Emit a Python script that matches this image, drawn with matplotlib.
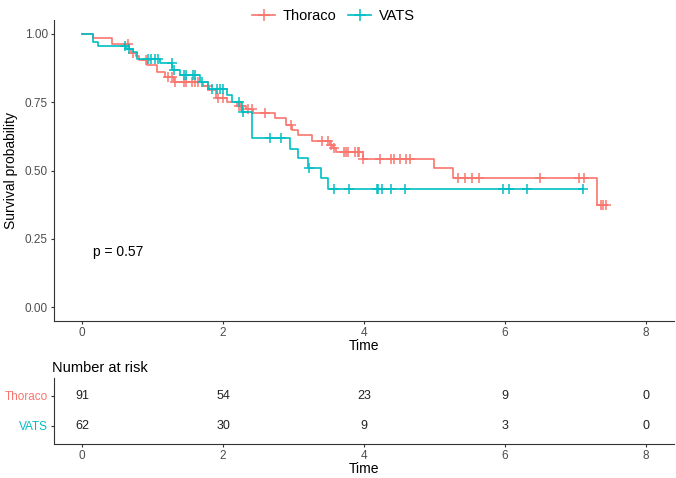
import numpy as np
import matplotlib
matplotlib.use('Agg')
import matplotlib.pyplot as plt
from matplotlib.lines import Line2D

plt.rcParams['font.family'] = ['Liberation Sans', 'DejaVu Sans']

groups = ['Thoraco', 'VATS']
colors = ['#F8766D', '#00BFC4']

# Thoraco: step times and survival after each step
thor_t = [0.16, 0.42, 0.66, 0.70, 0.76, 0.80, 0.92, 1.06, 1.18, 1.30, 1.72, 1.80,
          1.90, 2.05, 2.20, 2.32, 2.42, 2.74, 2.90, 2.98, 3.07, 3.26, 3.52, 3.56,
          3.60, 3.98, 5.00, 5.26, 7.31]
thor_s = [0.984, 0.963, 0.945, 0.930, 0.918, 0.905, 0.885, 0.862, 0.844, 0.825, 0.810, 0.795,
          0.766, 0.750, 0.738, 0.725, 0.709, 0.691, 0.667, 0.648, 0.630, 0.608, 0.593, 0.584,
          0.567, 0.542, 0.508, 0.471, 0.375]
thor_cens = [0.65, 0.72, 0.90, 1.22, 1.27, 1.32, 1.44, 1.48, 1.56, 1.60, 1.65, 1.78, 1.93,
             2.00, 2.22, 2.25, 2.36, 2.41, 2.60, 2.97, 3.40, 3.49, 3.53, 3.57, 3.71, 3.74,
             3.78, 3.87, 3.91, 3.93, 3.99, 4.23, 4.39, 4.43, 4.51, 4.60, 4.65, 5.34, 5.43,
             5.54, 5.64, 6.50, 7.05, 7.13, 7.36, 7.40, 7.44]
thor_end = 7.45

# VATS
vats_t = [0.16, 0.22, 0.62, 0.72, 0.78, 1.11, 1.28, 1.39, 1.67, 1.79, 2.05, 2.12,
          2.27, 2.41, 2.95, 3.06, 3.21, 3.39, 3.49]
vats_s = [0.972, 0.956, 0.944, 0.935, 0.907, 0.892, 0.868, 0.850, 0.825, 0.800, 0.776, 0.752,
          0.715, 0.620, 0.580, 0.545, 0.508, 0.471, 0.432]
vats_cens = [0.61, 0.66, 0.94, 0.98, 1.03, 1.08, 1.27, 1.30, 1.44, 1.48, 1.58, 1.60, 1.70,
             1.84, 1.91, 1.96, 2.00, 2.22, 2.28, 2.66, 2.82, 3.22, 3.57, 3.79, 4.18, 4.20,
             4.25, 4.38, 4.58, 5.98, 6.06, 6.32, 7.11]
vats_end = 7.11

risk_times = [0, 2, 4, 6, 8]
thor_risk = [91, 54, 23, 9, 0]
vats_risk = [62, 30, 9, 3, 0]
pval = 'p = 0.57'

fig = plt.figure(figsize=(6.76, 4.78), dpi=100)
ax = fig.add_axes([0.0799, 0.329, 0.917, 0.6285])
axr = fig.add_axes([0.0799, 0.0715, 0.917, 0.1385])

curves = [(thor_t, thor_s, thor_cens, thor_end), (vats_t, vats_s, vats_cens, vats_end)]
for (t, s, cens, end), col in zip(curves, colors):
    tt = np.concatenate([[0], t, [end]])
    ss = np.concatenate([[1.0], s, [s[-1]]])
    ax.step(tt, ss, where='post', color=col, lw=1.2)
    idx = np.searchsorted(tt, cens, side='right') - 1
    ax.plot(cens, ss[idx], ls='none', marker='+', ms=7, mew=1.1, color=col)

ax.text(0.15, 0.2, pval, fontsize=10, ha='left', va='center')

for a in (ax, axr):
    for sp in ['top', 'right']:
        a.spines[sp].set_visible(False)
    for sp in ['left', 'bottom']:
        a.spines[sp].set_color('#333333')
        a.spines[sp].set_linewidth(0.8)
    a.tick_params(colors='#333333', labelcolor='#4D4D4D', labelsize=8.5, length=2.5,
                  width=0.8, pad=2)
    a.set_xlim(-0.4, 8.4)
    a.set_xticks(risk_times)
    a.set_xlabel('Time', fontsize=10, labelpad=0)

ax.set_ylim(-0.05, 1.05)
ax.set_yticks([0, 0.25, 0.5, 0.75, 1.0])
ax.set_yticklabels(['0.00', '0.25', '0.50', '0.75', '1.00'])
ax.set_ylabel('Survival probability', fontsize=10, labelpad=5)

handles = [Line2D([], [], color=c, marker='+', ms=8, mew=1.1, lw=1.2) for c in colors]
fig.legend(handles, groups, loc='center', bbox_to_anchor=(0.493, 0.966), ncol=2,
           frameon=False, fontsize=10.5, handlelength=1.6, columnspacing=0.8, handletextpad=0.5)

# risk table
ypos = [2, 1]
for risks, y in zip([thor_risk, vats_risk], ypos):
    for x, n in zip(risk_times, risks):
        axr.text(x, y, str(n), ha='center', va='center', fontsize=9, color='#222222')
axr.set_ylim(0.4, 2.6)
axr.set_yticks(ypos)
axr.set_yticklabels(groups)
for lab, c in zip(axr.get_yticklabels(), colors):
    lab.set_color(c)
axr.set_title('Number at risk', loc='left', fontsize=10.5, pad=4, x=-0.003)

fig.savefig('out.png', dpi=100)
